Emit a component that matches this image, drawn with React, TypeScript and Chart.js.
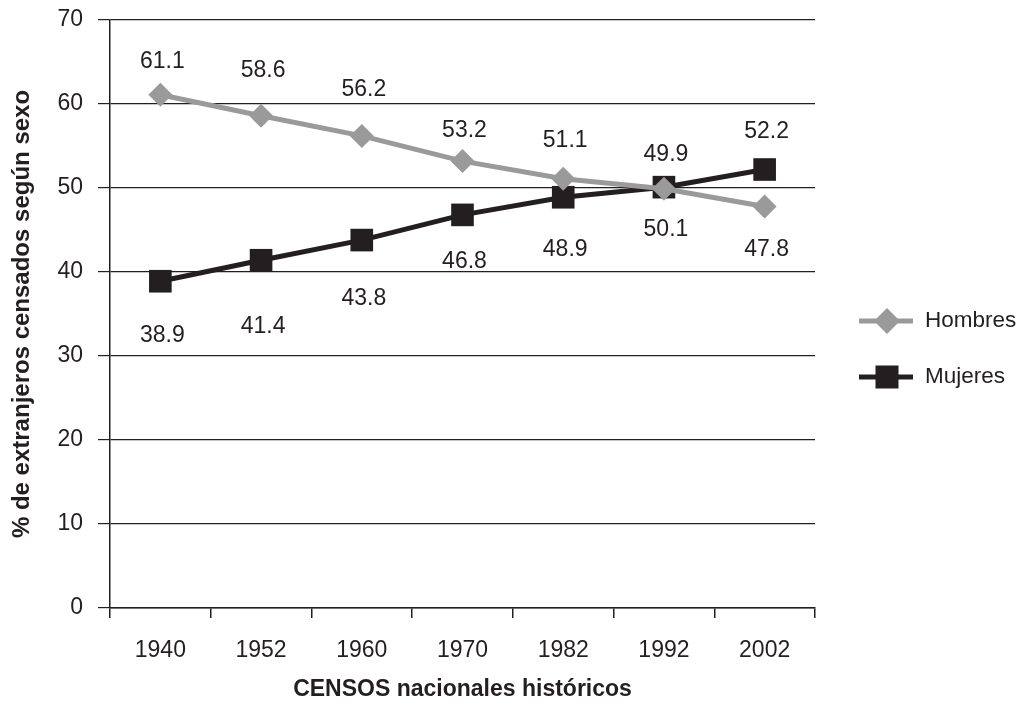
import React, { useEffect, useRef } from "react";
import { Chart, registerables } from "chart.js";

Chart.register(...registerables);

const censusYears = ["1940", "1952", "1960", "1970", "1982", "1992", "2002"];
const hombres = [61.1, 58.6, 56.2, 53.2, 51.1, 49.9, 47.8];
const mujeres = [38.9, 41.4, 43.8, 46.8, 48.9, 50.1, 52.2];
const seriesNames = ["Hombres", "Mujeres"];
const yAxisTitle = "% de extranjeros censados según sexo";
const xAxisTitle = "CENSOS nacionales históricos";

const FONT = "'Liberation Sans', Arial, Helvetica, sans-serif";
const INK = "#231f20";
const GREY = "#9a9a9a";

// label placement (pixel offsets from each point, above < 0 < below)
const hombresLabelDy = [-33, -45, -46, -30, -38, -34, 43];
const mujeresLabelDy = [54, 66, 59, 47, 52, 42, -38];

const labelPlugin = {
  id: "valueLabels",
  afterDatasetsDraw(chart: any, _args: any, opts: any) {
    const ctx = chart.ctx;
    ctx.save();
    ctx.font = `23px ${FONT}`;
    ctx.fillStyle = INK;
    ctx.textAlign = "center";
    ctx.textBaseline = "middle";
    chart.data.datasets.forEach((ds: any, di: number) => {
      const meta = chart.getDatasetMeta(di);
      const offs = opts.offsets[di];
      meta.data.forEach((pt: any, i: number) => {
        ctx.fillText(ds.data[i].toFixed(1), pt.x + 2, pt.y + offs[i]);
      });
    });
    ctx.restore();
  },
};

const legendPlugin = {
  id: "sideLegend",
  afterDraw(chart: any) {
    const ctx = chart.ctx;
    const x0 = chart.chartArea.right + 44;
    const rows = [321, 377];
    ctx.save();
    chart.data.datasets.forEach((ds: any, di: number) => {
      const y = rows[di];
      const c = ds.borderColor;
      ctx.strokeStyle = c;
      ctx.fillStyle = c;
      ctx.lineWidth = 5;
      ctx.beginPath();
      ctx.moveTo(x0, y);
      ctx.lineTo(x0 + 54, y);
      ctx.stroke();
      const cx = x0 + 28;
      if (ds.pointStyle === "rectRot") {
        const r = 13;
        ctx.beginPath();
        ctx.moveTo(cx, y - r);
        ctx.lineTo(cx + r, y);
        ctx.lineTo(cx, y + r);
        ctx.lineTo(cx - r, y);
        ctx.closePath();
        ctx.fill();
      } else {
        ctx.fillRect(cx - 11.5, y - 11.5, 23, 23);
      }
      ctx.fillStyle = INK;
      ctx.font = `22.5px ${FONT}`;
      ctx.textAlign = "left";
      ctx.textBaseline = "middle";
      ctx.fillText(ds.label, x0 + 66, y);
    });
    ctx.restore();
  },
};

export default function App() {
  const ref = useRef<HTMLCanvasElement>(null);

  useEffect(() => {
    if (!ref.current) return;
    const chart = new Chart(ref.current, {
      type: "line",
      data: {
        labels: censusYears,
        datasets: [
          {
            label: seriesNames[0],
            data: hombres,
            borderColor: GREY,
            backgroundColor: GREY,
            borderWidth: 5,
            pointStyle: "rectRot",
            pointRadius: 12,
            pointBorderWidth: 0,
            pointBackgroundColor: GREY,
            tension: 0,
          },
          {
            label: seriesNames[1],
            data: mujeres,
            borderColor: INK,
            backgroundColor: INK,
            borderWidth: 5,
            pointStyle: "rect",
            pointRadius: 16,
            pointBorderWidth: 0,
            pointBackgroundColor: INK,
            tension: 0,
          },
        ],
      },
      options: {
        animation: false,
        responsive: false,
        maintainAspectRatio: false,
        layout: { padding: { top: 20, right: 207, left: 0, bottom: 0 } },
        plugins: {
          legend: { display: false },
          tooltip: { enabled: false },
          valueLabels: { offsets: [hombresLabelDy, mujeresLabelDy] },
        } as any,
        scales: {
          x: {
            type: "category",
            offset: true,
            grid: {
              offset: true,
              drawOnChartArea: false,
              drawTicks: true,
              tickLength: 10,
              color: INK,
              lineWidth: 1.5,
            },
            border: { display: true, color: INK, width: 1.5 },
            ticks: {
              font: { family: FONT, size: 23 },
              color: INK,
              padding: 19,
              maxRotation: 0,
            },
            title: {
              display: true,
              text: xAxisTitle,
              font: { family: FONT, size: 23, weight: "bold" },
              color: INK,
              padding: { top: 12, bottom: 0 },
            },
            afterFit: (s: any) => {
              s.height = 95;
            },
          },
          y: {
            min: 0,
            max: 70,
            ticks: {
              stepSize: 10,
              font: { family: FONT, size: 23, lineHeight: 0.2 },
              color: INK,
              padding: 15,
            },
            grid: {
              color: INK,
              lineWidth: 1.2,
              tickLength: 12,
            },
            border: { display: true, color: INK, width: 1.5 },
            title: {
              display: true,
              text: yAxisTitle,
              font: { family: FONT, size: 24, weight: "bold" },
              color: INK,
              padding: { top: 8, bottom: 0 },
            },
            afterFit: (s: any) => {
              s.width = 110;
            },
          },
        },
      },
      plugins: [labelPlugin, legendPlugin],
    });
    return () => chart.destroy();
  }, []);

  return (
    <div style={{ position: "absolute", left: 0, top: 0, width: 1022, height: 703, background: "#fff" }}>
      <canvas ref={ref} width={1022} height={703} style={{ display: "block" }} />
    </div>
  );
}
